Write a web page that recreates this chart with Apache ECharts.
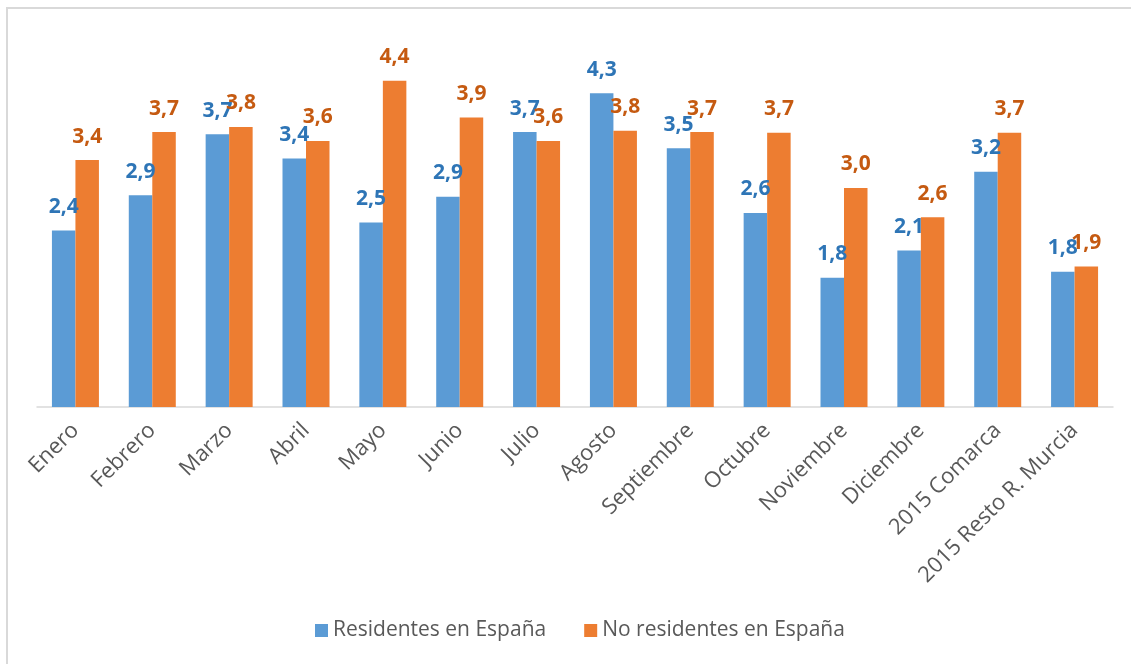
<!DOCTYPE html>
<html>
<head>
<meta charset="utf-8">
<script src="https://cdn.jsdelivr.net/npm/echarts@6/dist/echarts.min.js"></script>
<style>
  html, body { margin: 0; padding: 0; background: #fff; }
  #chart { width: 1131px; height: 664px; }
</style>
</head>
<body>
<div id="chart"></div>
<script>
// categorias y valores
var meses = ['Enero', 'Febrero', 'Marzo', 'Abril', 'Mayo', 'Junio', 'Julio', 'Agosto',
    'Septiembre', 'Octubre', 'Noviembre', 'Diciembre', '2015 Comarca', '2015 Resto R. Murcia']
var residentes = [2.40, 2.88, 3.71, 3.38, 2.51, 2.86, 3.74, 4.27, 3.52, 2.64, 1.76, 2.13, 3.20, 1.84]
var noResidentes = [3.36, 3.74, 3.81, 3.62, 4.44, 3.94, 3.62, 3.76, 3.74, 3.73, 2.98, 2.58, 3.73, 1.91]
var nombres = ['Residentes en España', 'No residentes en España']

function coma(p) {
    return p.value.toFixed(1).replace('.', ',')
}

var chart = echarts.init(document.getElementById('chart'))
var option = {
    animation: false,
    textStyle: { fontFamily: 'Open Sans' },
    graphic: [{
        type: 'rect',
        shape: { x: 7, y: 8, width: 1140, height: 700 },
        style: { fill: 'none', stroke: '#d9d9d9', lineWidth: 2 },
        silent: true
    }],
    legend: {
        data: nombres,
        bottom: 18,
        left: 310,
        itemWidth: 13,
        itemHeight: 13,
        itemGap: 38,
        icon: 'rect',
        textStyle: { color: '#595959', fontSize: 21, fontFamily: 'Open Sans' }
    },
    grid: {
        left: 37,
        right: 18,
        top: 39.5,
        bottom: 257
    },
    xAxis: {
        type: 'category',
        data: meses,
        axisLine: { lineStyle: { color: '#d9d9d9', width: 1.5 } },
        axisTick: { show: false },
        axisLabel: {
            interval: 0,
            rotate: 45,
            margin: 20,
            color: '#595959',
            fontSize: 22,
            fontFamily: 'Open Sans'
        }
    },
    yAxis: {
        type: 'value',
        min: 0,
        max: 5,
        show: false
    },
    series: [
        {
            name: nombres[0],
            type: 'bar',
            data: residentes,
            barWidth: 23.5,
            barGap: '0%',
            itemStyle: { color: '#5b9bd5' },
            label: {
                show: true,
                position: 'top',
                distance: 13,
                formatter: coma,
                color: '#2e75b6',
                fontSize: 21,
                fontWeight: 'bold',
                fontFamily: 'Open Sans'
            }
        },
        {
            name: nombres[1],
            type: 'bar',
            data: noResidentes,
            barWidth: 23.5,
            itemStyle: { color: '#ed7d31' },
            label: {
                show: true,
                position: 'top',
                distance: 13,
                formatter: coma,
                color: '#c55a11',
                fontSize: 21,
                fontWeight: 'bold',
                fontFamily: 'Open Sans'
            }
        }
    ]
}
chart.setOption(option)
</script>
</body>
</html>
